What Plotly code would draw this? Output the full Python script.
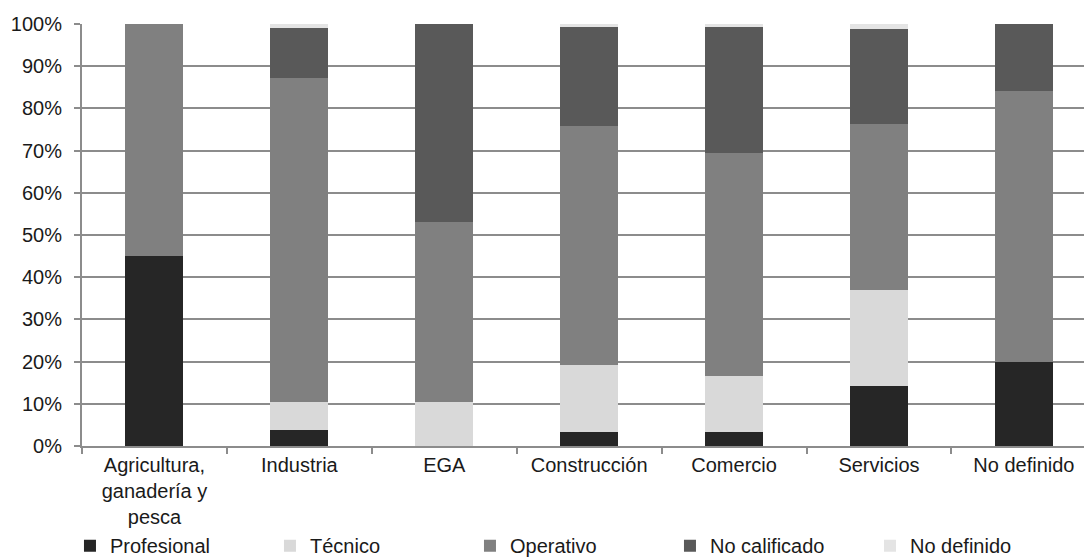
import plotly.graph_objects as go

# Sectors (x categories)
categories = [
    "Agricultura,<br>ganadería y<br>pesca",
    "Industria",
    "EGA",
    "Construcción",
    "Comercio",
    "Servicios",
    "No definido",
]

# Share of each occupational level per sector (%)
profesional = [45.0, 3.7, 0.0, 3.3, 3.3, 14.3, 19.8]
tecnico = [0.0, 6.8, 10.5, 16.0, 13.4, 22.7, 0.0]
operativo = [55.0, 76.7, 42.5, 56.5, 52.7, 39.4, 64.4]
no_calificado = [0.0, 11.9, 47.0, 23.6, 30.0, 22.4, 15.8]
no_definido = [0.0, 0.9, 0.0, 0.6, 0.6, 1.2, 0.0]

y_ticks = list(range(0, 101, 10))

series = [
    ("Profesional", profesional, "#262626"),
    ("Técnico", tecnico, "#d9d9d9"),
    ("Operativo", operativo, "#808080"),
    ("No calificado", no_calificado, "#595959"),
    ("No definido", no_definido, "#e4e4e4"),
]

FONT = "Liberation Sans, Arial, sans-serif"
GRID = "#8c8c8c"

fig = go.Figure()
for name, vals, color in series:
    fig.add_trace(go.Bar(
        name=name,
        x=categories,
        y=vals,
        marker=dict(color=color, line=dict(width=0)),
        width=0.4,
    ))

fig.update_layout(
    barmode="stack",
    width=1084,
    height=557,
    margin=dict(l=82, r=0, t=24, b=111, autoexpand=False),
    paper_bgcolor="white",
    plot_bgcolor="white",
    font=dict(family=FONT, size=20, color="#1a1a1a"),
    showlegend=True,
    legend=dict(
        orientation="h",
        x=-0.012,
        xanchor="left",
        y=-0.19,
        yanchor="top",
        entrywidth=155,
        entrywidthmode="pixels",
        itemwidth=30,
        traceorder="normal",
        font=dict(family=FONT, size=20, color="#1a1a1a"),
        bgcolor="rgba(0,0,0,0)",
    ),
    xaxis=dict(
        type="category",
        range=[-0.5, 6.415],
        showline=True,
        linecolor=GRID,
        linewidth=2,
        ticks="outside",
        tickson="boundaries",
        ticklen=6,
        tickwidth=2,
        tickcolor=GRID,
        showgrid=False,
        tickfont=dict(family=FONT, size=20, color="#1a1a1a"),
    ),
    yaxis=dict(
        range=[0, 100],
        tickvals=y_ticks,
        ticktext=[f"{v}%" for v in y_ticks],
        showline=True,
        linecolor=GRID,
        linewidth=2,
        ticks="outside",
        ticklen=6,
        tickwidth=2,
        tickcolor=GRID,
        showgrid=True,
        gridcolor=GRID,
        gridwidth=2,
        zeroline=False,
        ticklabelstandoff=8,
        tickfont=dict(family=FONT, size=20, color="#1a1a1a"),
    ),
)

fig.write_html("out.html")
